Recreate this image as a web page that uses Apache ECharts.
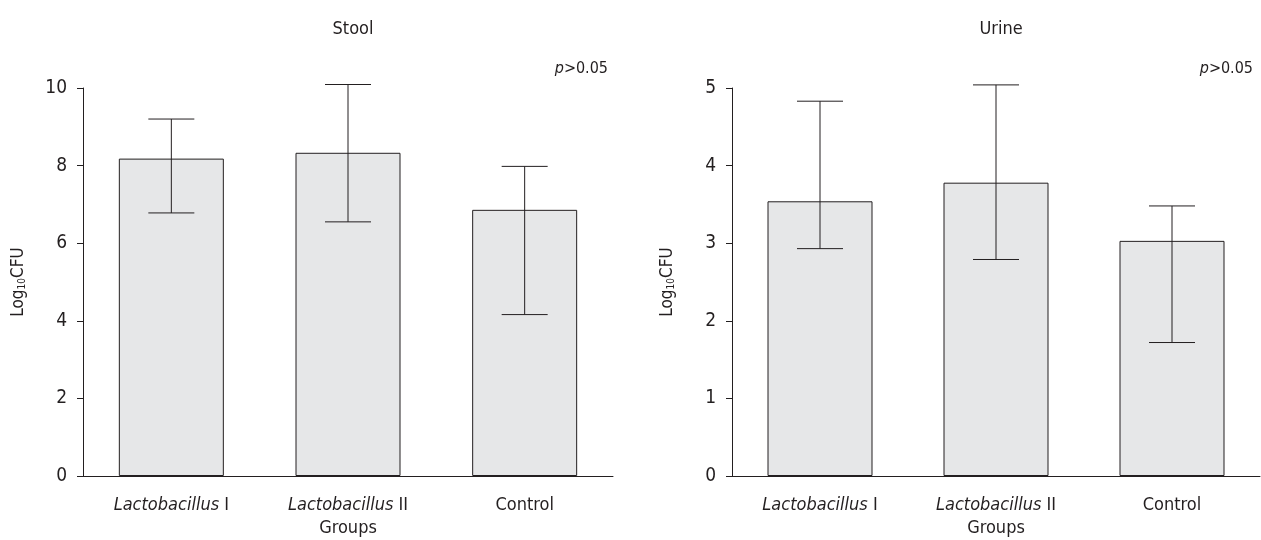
<!DOCTYPE html>
<html>
<head>
<meta charset="utf-8">
<script src="https://cdn.jsdelivr.net/npm/echarts@6/dist/echarts.min.js"></script>
<style>
  html, body { margin: 0; padding: 0; background: #fff; }
  #main { width: 1261px; height: 540px; }
</style>
</head>
<body>
<div id="main"></div>
<script>
// data
var categories = ["Lactobacillus I", "Lactobacillus II", "Control"];
var stoolMean = [8.18, 8.33, 6.86];
var stoolLow = [6.78, 6.55, 4.16];
var stoolHigh = [9.2, 10.09, 7.98];
var urineMean = [3.54, 3.78, 3.03];
var urineLow = [2.93, 2.79, 1.72];
var urineHigh = [4.83, 5.04, 3.48];
var stoolTicks = { min: 0, max: 10, interval: 2 };
var urineTicks = { min: 0, max: 5, interval: 1 };

var font = "'Liberation Sans Narrow', 'DejaVu Sans Condensed', 'Roboto', sans-serif";
var ink = "#231f20";

var myChart = echarts.init(document.getElementById("main"));

// error bar renderer
var errorRender = function (params, api) {
  var x = api.value(0);
  var top = api.coord([x, api.value(2)]);
  var bot = api.coord([x, api.value(1)]);
  var hw = 23;
  var st = { stroke: ink, lineWidth: 1 };
  return {
    type: "group",
    children: [
      { type: "line", shape: { x1: top[0], y1: top[1], x2: bot[0], y2: bot[1] }, style: st },
      { type: "line", shape: { x1: top[0] - hw, y1: top[1], x2: top[0] + hw, y2: top[1] }, style: st },
      { type: "line", shape: { x1: bot[0] - hw, y1: bot[1], x2: bot[0] + hw, y2: bot[1] }, style: st }
    ]
  };
};

var catLabel = function (v) {
  var parts = v.split(" ");
  if (parts[0] === "Lactobacillus") return "{i|" + parts[0] + "} " + parts[1];
  return v;
};

var xAxisOf = function (idx) {
  return {
    type: "category",
    gridIndex: idx,
    data: categories,
    name: "Groups",
    nameLocation: "middle",
    nameGap: 43,
    nameTextStyle: { fontFamily: font, fontSize: 18, color: ink },
    axisLine: { lineStyle: { color: ink, width: 1 } },
    axisTick: { alignWithLabel: true, length: 11, lineStyle: { color: ink } },
    axisLabel: {
      interval: 0,
      hideOverlap: false,
      margin: 20,
      fontFamily: font,
      fontSize: 18,
      color: ink,
      formatter: catLabel,
      rich: { i: { fontFamily: font, fontSize: 18, fontStyle: "italic", color: ink } }
    },
    splitLine: { show: false }
  };
};

var yAxisOf = function (idx, t) {
  return {
    type: "value",
    gridIndex: idx,
    min: t.min,
    max: t.max,
    interval: t.interval,
    name: "{a|Log}{s|10}{a|CFU}",
    nameLocation: "middle",
    nameRotate: 90,
    nameGap: 56,
    nameTextStyle: {
      rich: {
        a: { fontFamily: font, fontSize: 17, color: ink },
        s: { fontFamily: font, fontSize: 10, color: ink, verticalAlign: "bottom", padding: [6, 0, 0, 0] }
      }
    },
    axisLine: { show: true, lineStyle: { color: ink, width: 1 } },
    axisTick: { show: true, length: 6, lineStyle: { color: ink } },
    axisLabel: { margin: 16, fontFamily: font, fontSize: 19, color: ink },
    splitLine: { show: false }
  };
};

var barSeries = function (idx, vals) {
  return {
    type: "bar",
    xAxisIndex: idx,
    yAxisIndex: idx,
    data: vals,
    barWidth: 105,
    itemStyle: { color: "#e6e7e8", borderColor: ink, borderWidth: 1 },
    silent: true
  };
};

var errSeries = function (idx, lo, hi) {
  return {
    type: "custom",
    xAxisIndex: idx,
    yAxisIndex: idx,
    renderItem: errorRender,
    data: categories.map(function (c, i) { return [i, lo[i], hi[i]]; }),
    encode: { x: 0, y: [1, 2] },
    z: 5,
    silent: true
  };
};

var pText = {
  fontFamily: font, fontSize: 16, fontWeight: "normal", color: ink,
  rich: { i: { fontFamily: font, fontSize: 16, fontStyle: "italic", color: ink } }
};

var option = {
  animation: false,
  backgroundColor: "#fff",
  title: [
    { text: "Stool", left: 348, top: 15, textAlign: "center",
      textStyle: { fontFamily: font, fontSize: 18, fontWeight: "normal", color: ink } },
    { text: "Urine", left: 996, top: 15, textAlign: "center",
      textStyle: { fontFamily: font, fontSize: 18, fontWeight: "normal", color: ink } },
    { text: "{i|p}>0.05", right: 648, top: 56, textStyle: pText },
    { text: "{i|p}>0.05", right: 3, top: 56, textStyle: pText }
  ],
  grid: [
    { left: 83, width: 530, top: 88, bottom: 64, outerBoundsMode: "none" },
    { left: 732, width: 528, top: 88, bottom: 64, outerBoundsMode: "none" }
  ],
  xAxis: [xAxisOf(0), xAxisOf(1)],
  yAxis: [yAxisOf(0, stoolTicks), yAxisOf(1, urineTicks)],
  series: [
    barSeries(0, stoolMean),
    errSeries(0, stoolLow, stoolHigh),
    barSeries(1, urineMean),
    errSeries(1, urineLow, urineHigh)
  ]
};

myChart.setOption(option);
</script>
</body>
</html>
